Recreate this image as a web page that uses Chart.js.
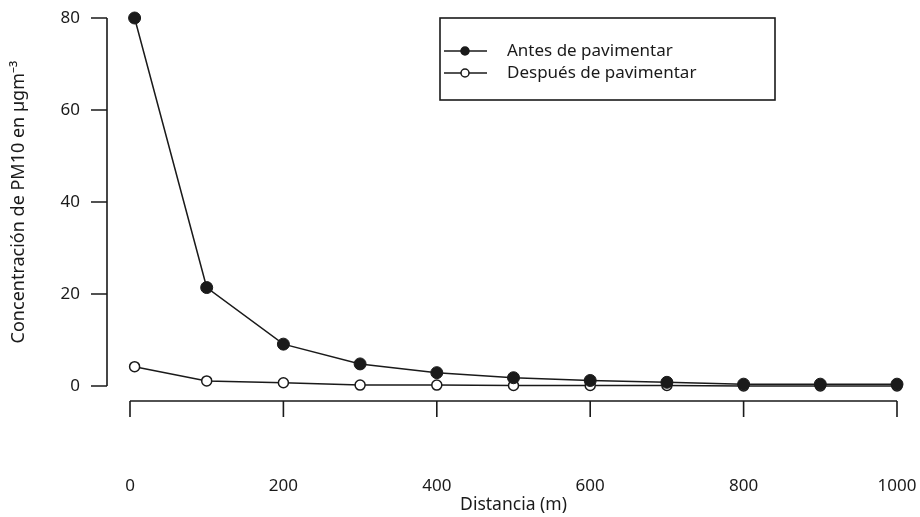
<!DOCTYPE html>
<html>
<head>
<meta charset="utf-8">
<script src="https://cdn.jsdelivr.net/npm/chart.js@4.4.0/dist/chart.umd.min.js"></script>
<style>
  html, body { margin: 0; padding: 0; background: #fff; }
  #wrap { width: 920px; height: 517px; }
</style>
</head>
<body>
<div id="wrap"><canvas id="chart"></canvas></div>
<script>
// PM10 vs distance, before / after paving

const distancia = [6, 100, 200, 300, 400, 500, 600, 700, 800, 900, 1000];
const antes     = [80, 21.4, 9.1, 4.8, 2.9, 1.8, 1.2, 0.8, 0.4, 0.4, 0.4];
const despues   = [4.2, 1.1, 0.7, 0.2, 0.2, 0.1, 0.1, 0.1, 0, 0, 0];

const serieLabels = ["Antes de pavimentar", "Después de pavimentar"];
const xTitle = "Distancia (m)";
const yTitle = "Concentración de PM10 en µgm⁻³";

const ink = "#1a1a1a";
Chart.defaults.font.family = "'Noto Sans', sans-serif";
Chart.defaults.color = ink;

const toPoints = (ys) => distancia.map((x, i) => ({ x, y: ys[i] }));

// R-style axes, detached from the plot area
const detachedAxes = {
  id: "detachedAxes",
  afterDraw(chart) {
    const { ctx, chartArea, scales } = chart;
    const xs = scales.x, ys = scales.y;
    ctx.save();
    ctx.strokeStyle = ink;
    ctx.lineWidth = 1.6;

    // y axis
    const ax = chartArea.left - 23;
    ctx.beginPath();
    ctx.moveTo(ax, ys.getPixelForValue(ys.min));
    ctx.lineTo(ax, ys.getPixelForValue(ys.max));
    ys.ticks.forEach(t => {
      const py = ys.getPixelForValue(t.value);
      ctx.moveTo(ax - 16, py);
      ctx.lineTo(ax, py);
    });
    ctx.stroke();

    // x axis
    const ay = chartArea.bottom + 15;
    ctx.beginPath();
    ctx.moveTo(xs.getPixelForValue(xs.min), ay);
    ctx.lineTo(xs.getPixelForValue(xs.max), ay);
    xs.ticks.forEach(t => {
      const px = xs.getPixelForValue(t.value);
      ctx.moveTo(px, ay);
      ctx.lineTo(px, ay + 16);
    });
    ctx.stroke();
    ctx.restore();
  }
};

// boxed legend, top right
const boxLegend = {
  id: "boxLegend",
  afterDraw(chart) {
    const { ctx } = chart;
    const bx = 440, by = 18, bw = 335, bh = 82;
    ctx.save();
    ctx.strokeStyle = ink;
    ctx.lineWidth = 1.6;
    ctx.strokeRect(bx, by, bw, bh);

    chart.data.datasets.forEach((ds, i) => {
      const cy = by + 33 + i * 22;
      ctx.beginPath();
      ctx.lineWidth = 1.5;
      ctx.moveTo(bx + 4, cy);
      ctx.lineTo(bx + 47, cy);
      ctx.stroke();
      ctx.beginPath();
      ctx.arc(bx + 25, cy, 4, 0, Math.PI * 2);
      ctx.fillStyle = ds.pointBackgroundColor;
      ctx.fill();
      ctx.stroke();

      ctx.fillStyle = ink;
      ctx.font = "17px 'Noto Sans', sans-serif";
      ctx.textBaseline = "middle";
      ctx.fillText(ds.label, bx + 67, cy);
    });
    ctx.restore();
  }
};

// fixed scale sizes, no extra label padding added by the layout
const fixSize = (w, h) => (s) => {
  if (w) s.width = w;
  if (h) s.height = h;
  s.paddingTop = 0; s.paddingBottom = 0;
  s.paddingLeft = 0; s.paddingRight = 0;
};

new Chart(document.getElementById("chart"), {
  type: "line",
  data: {
    datasets: [
      {
        label: serieLabels[0],
        data: toPoints(antes),
        borderColor: ink,
        borderWidth: 1.5,
        pointRadius: 6,
        pointBackgroundColor: ink,
        pointBorderColor: ink,
        pointBorderWidth: 1,
        tension: 0,
        clip: false,
      },
      {
        label: serieLabels[1],
        data: toPoints(despues),
        borderColor: ink,
        borderWidth: 1.5,
        pointRadius: 5,
        pointBackgroundColor: "#ffffff",
        pointBorderColor: ink,
        pointBorderWidth: 1.5,
        tension: 0,
        clip: false,
      }
    ]
  },
  options: {
    responsive: true,
    maintainAspectRatio: false,
    animation: false,
    layout: { padding: { top: 18, right: 23, left: 0, bottom: 0 } },
    scales: {
      x: {
        type: "linear",
        min: 0,
        max: 1000,
        afterFit: fixSize(0, 131),
        grid: { display: false, drawTicks: false },
        border: { display: false },
        ticks: {
          stepSize: 200, padding: 90, color: ink, font: { size: 17 },
          callback: (v) => String(v)
        },
        title: { display: true, text: xTitle, color: ink, font: { size: 17.5 }, padding: { top: 0, bottom: 1 } }
      },
      y: {
        min: 0,
        max: 80,
        afterFit: fixSize(130, 0),
        grid: { display: false, drawTicks: false },
        border: { display: false },
        ticks: { stepSize: 20, padding: 50, color: ink, font: { size: 17 } },
        title: { display: true, text: yTitle, color: ink, font: { size: 18 }, padding: { top: 8, bottom: 0 } }
      }
    },
    plugins: {
      legend: { display: false },
      tooltip: { enabled: false }
    }
  },
  plugins: [detachedAxes, boxLegend]
});
</script>
</body>
</html>
